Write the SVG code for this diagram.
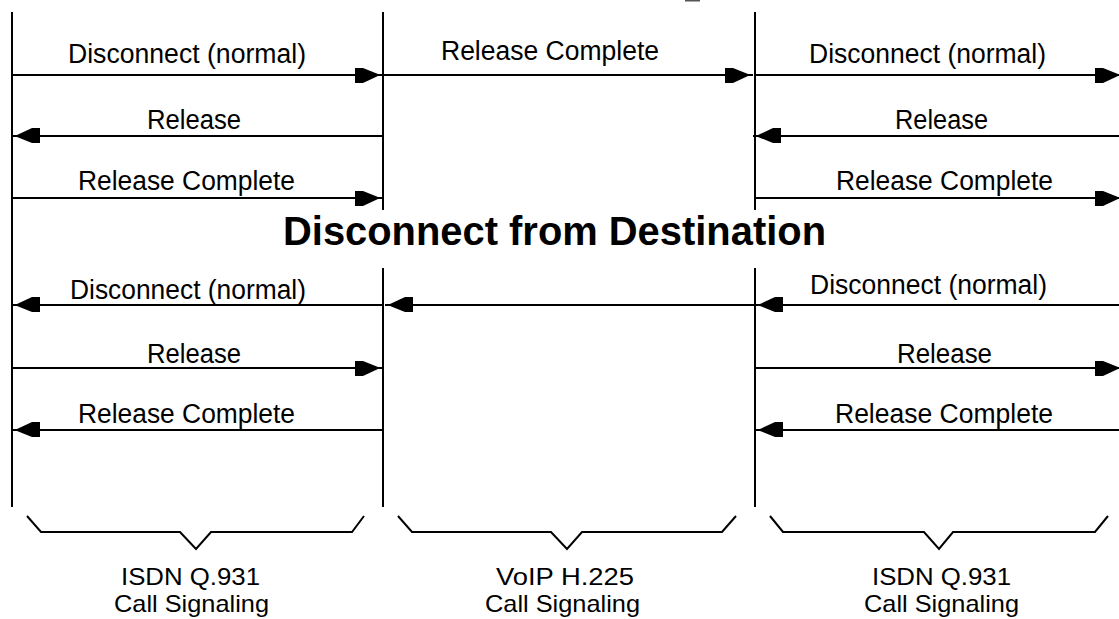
<svg xmlns="http://www.w3.org/2000/svg" width="1119" height="619" viewBox="0 0 1119 619">
  <style>
    .lane { stroke: #000; stroke-width: 2; fill: none; }
    .msg { stroke: #000; stroke-width: 2; fill: none; marker-end: url(#ah); }
    .brace { stroke: #000; stroke-width: 2; fill: none; }
    .lbl { font-family: "Liberation Sans", Arial, sans-serif; font-size: 27px; fill: #000; }
    .cap { font-family: "Liberation Sans", Arial, sans-serif; font-size: 24px; fill: #000; }
    .title { font-family: "Liberation Sans", Arial, sans-serif; font-size: 40px; font-weight: bold; fill: #000; }
  </style>
  <defs>
    <marker id="ah" markerUnits="userSpaceOnUse" viewBox="-30 -10 31 20" markerWidth="31" markerHeight="20" refX="0" refY="0" orient="auto" overflow="visible">
      <path d="M-28,-7 L-20,-7 L-5,-1 L-5,1 L-20,8 L-28,8 Z" fill="#000"/>
      <rect x="-6" y="-1" width="6" height="2" fill="#000"/>
    </marker>
  </defs>
  <rect width="1119" height="619" fill="#fff"/>
  <rect x="685" y="0" width="15" height="1.5" fill="#555"/>

  <g id="lanes">
    <line class="lane" x1="12" y1="12" x2="12" y2="507"/>
    <line class="lane" x1="383" y1="12" x2="383" y2="210"/>
    <line class="lane" x1="383" y1="268" x2="383" y2="507"/>
    <line class="lane" x1="755" y1="12" x2="755" y2="210"/>
    <line class="lane" x1="755" y1="268" x2="755" y2="507"/>
  </g>

  <g id="connectors">
    <line class="msg" x1="12" y1="75" x2="383" y2="75"/>
    <line class="msg" x1="383" y1="75" x2="753" y2="75"/>
    <line class="msg" x1="755" y1="75" x2="1123" y2="75"/>
    <line class="msg" x1="383" y1="136" x2="12" y2="136"/>
    <line class="msg" x1="1119" y1="136" x2="753" y2="136"/>
    <line class="msg" x1="12" y1="198" x2="383" y2="198"/>
    <line class="msg" x1="755" y1="198" x2="1123" y2="198"/>
    <line class="msg" x1="383" y1="305" x2="12" y2="305"/>
    <line class="msg" x1="755" y1="305" x2="385" y2="305"/>
    <line class="msg" x1="1119" y1="305" x2="755" y2="305"/>
    <line class="msg" x1="12" y1="368" x2="383" y2="368"/>
    <line class="msg" x1="755" y1="368" x2="1123" y2="368"/>
    <line class="msg" x1="383" y1="430" x2="12" y2="430"/>
    <line class="msg" x1="1119" y1="430" x2="755" y2="430"/>
  </g>

  <g id="labels">
    <text class="lbl" x="68" y="63" textLength="238" lengthAdjust="spacingAndGlyphs">Disconnect (normal)</text>
    <text class="lbl" x="441" y="60" textLength="218" lengthAdjust="spacingAndGlyphs">Release Complete</text>
    <text class="lbl" x="809" y="63" textLength="237" lengthAdjust="spacingAndGlyphs">Disconnect (normal)</text>
    <text class="lbl" x="147" y="129" textLength="94" lengthAdjust="spacingAndGlyphs">Release</text>
    <text class="lbl" x="895" y="129" textLength="93" lengthAdjust="spacingAndGlyphs">Release</text>
    <text class="lbl" x="78" y="190" textLength="217" lengthAdjust="spacingAndGlyphs">Release Complete</text>
    <text class="lbl" x="836" y="190" textLength="217" lengthAdjust="spacingAndGlyphs">Release Complete</text>
    <text class="lbl" x="70" y="299" textLength="236" lengthAdjust="spacingAndGlyphs">Disconnect (normal)</text>
    <text class="lbl" x="810" y="294" textLength="237" lengthAdjust="spacingAndGlyphs">Disconnect (normal)</text>
    <text class="lbl" x="147" y="363" textLength="94" lengthAdjust="spacingAndGlyphs">Release</text>
    <text class="lbl" x="897" y="363" textLength="95" lengthAdjust="spacingAndGlyphs">Release</text>
    <text class="lbl" x="78" y="423" textLength="217" lengthAdjust="spacingAndGlyphs">Release Complete</text>
    <text class="lbl" x="835" y="423" textLength="218" lengthAdjust="spacingAndGlyphs">Release Complete</text>
  </g>

  <g id="title">
    <text class="title" x="283" y="245" textLength="543" lengthAdjust="spacingAndGlyphs">Disconnect from Destination</text>
  </g>

  <g id="group-isdn-left">
    <polyline class="brace" points="27,516 41,532 180,532 196,549 211,532 352,532 364,516"/>
    <text class="cap" x="121" y="585" textLength="139" lengthAdjust="spacingAndGlyphs">ISDN Q.931</text>
    <text class="cap" x="114" y="612" textLength="155" lengthAdjust="spacingAndGlyphs">Call Signaling</text>
  </g>
  <g id="group-voip">
    <polyline class="brace" points="398,516 412,532 551,532 567,549 582,532 722,532 736,516"/>
    <text class="cap" x="496" y="585" textLength="138" lengthAdjust="spacingAndGlyphs">VoIP H.225</text>
    <text class="cap" x="485" y="612" textLength="155" lengthAdjust="spacingAndGlyphs">Call Signaling</text>
  </g>
  <g id="group-isdn-right">
    <polyline class="brace" points="770,516 783,532 924,532 939,549 953,532 1095,532 1108,516"/>
    <text class="cap" x="872" y="585" textLength="139" lengthAdjust="spacingAndGlyphs">ISDN Q.931</text>
    <text class="cap" x="864" y="612" textLength="155" lengthAdjust="spacingAndGlyphs">Call Signaling</text>
  </g>
</svg>
